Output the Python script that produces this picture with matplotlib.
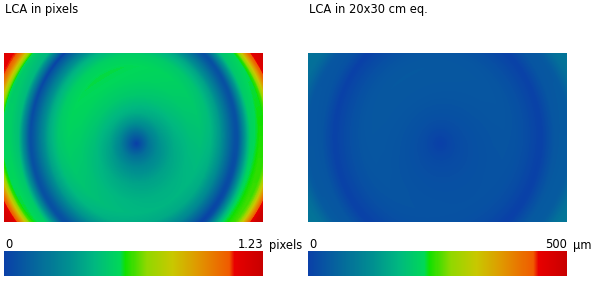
import numpy as np
import matplotlib
matplotlib.use("Agg")
import matplotlib.pyplot as plt
from matplotlib.colors import LinearSegmentedColormap, Normalize

# Signed radial shift, as fraction of the 1.23 px max.
# inner part (zone up to the blue ring), distances in screen px
inner_dist = [0, 6, 15, 25, 40, 55, 66, 76, 86, 95, 103, 109, 116, 125, 200]
inner_shift = [0.00, 0.08, 0.20, 0.28, 0.35, 0.39, 0.40, 0.37, 0.28, 0.14, 0.00,
               -0.20, -0.40, -0.45, -0.46]
# outer rise towards the corners
outer_dist = [0, 130, 133, 136, 139, 142, 146, 155, 170]
outer_shift = [0.00, 0.00, -0.04, -0.15, -0.27, -0.38, -0.47, -0.52, -0.55]
# decentering (constant lateral component), fraction of max
decenter = (-0.025, -0.05)

lca_max_px = 1.23
scale_max_um = 500
um_per_px = 70          # 20x30 cm print equivalent

titles = ["LCA in pixels", "LCA in 20x30 cm eq."]
bar_max_labels = ["1.23", "500"]
bar_units = ["pixels", "µm"]

# colour scale as seen in the legend bars
cmap_pos = [0.0, 0.25, 0.35, 0.45, 0.47, 0.55, 0.65, 0.75, 0.87, 0.89, 1.0]
cmap_cols = ["#0a40a8", "#009090", "#00b880", "#00d858", "#10e000", "#90d800",
             "#c8c800", "#e09800", "#f05a00", "#e80000", "#c80000"]
cmap = LinearSegmentedColormap.from_list("lca", list(zip(cmap_pos, cmap_cols)))

# sensor grid (image area is 259 x 169 screen px)
W, H = 259, 169
cx, cy = 130, 86
yy, xx = np.mgrid[0:H, 0:W].astype(float)
dx, dy = xx - cx, yy - cy
d_out = np.hypot(dx, dy)
d_in = np.hypot(dx, 0.9 * dy)
ux = dx / np.maximum(d_out, 1e-9)
uy = dy / np.maximum(d_out, 1e-9)
shift = np.interp(d_in, inner_dist, inner_shift) + np.interp(d_out, outer_dist, outer_shift)
vx = shift * ux + decenter[0]
vy = shift * uy + decenter[1]
lca_px = np.hypot(vx, vy) * lca_max_px
lca_um = lca_px * um_per_px

fig = plt.figure(figsize=(6, 2.81), dpi=100)

panels = [
    (lca_px, lca_max_px, 4 / 600),
    (lca_um, scale_max_um, 308 / 600),
]
for i, (field, vmax, x0) in enumerate(panels):
    w = 259 / 600
    ax = fig.add_axes([x0, 1 - 222 / 281, w, 169 / 281])
    im = ax.imshow(field, cmap=cmap, norm=Normalize(0, vmax), aspect="auto",
                   interpolation="bilinear")
    ax.set_axis_off()

    cax = fig.add_axes([x0, 1 - 276 / 281, w, 25 / 281])
    cb = fig.colorbar(im, cax=cax, orientation="horizontal")
    cb.set_ticks([])
    cb.outline.set_visible(False)

    fs = 8.3
    fig.text(x0 + 0.002, 1 - 10 / 281, titles[i], fontsize=fs, va="center", ha="left")
    fig.text(x0 + 0.002, 1 - 245 / 281, "0", fontsize=fs, va="center", ha="left")
    fig.text(x0 + w, 1 - 245 / 281, bar_max_labels[i], fontsize=fs, va="center", ha="right")
    fig.text(x0 + w + 0.01, 1 - 245 / 281, bar_units[i], fontsize=fs, va="center", ha="left")

fig.savefig("out.png", dpi=100)
